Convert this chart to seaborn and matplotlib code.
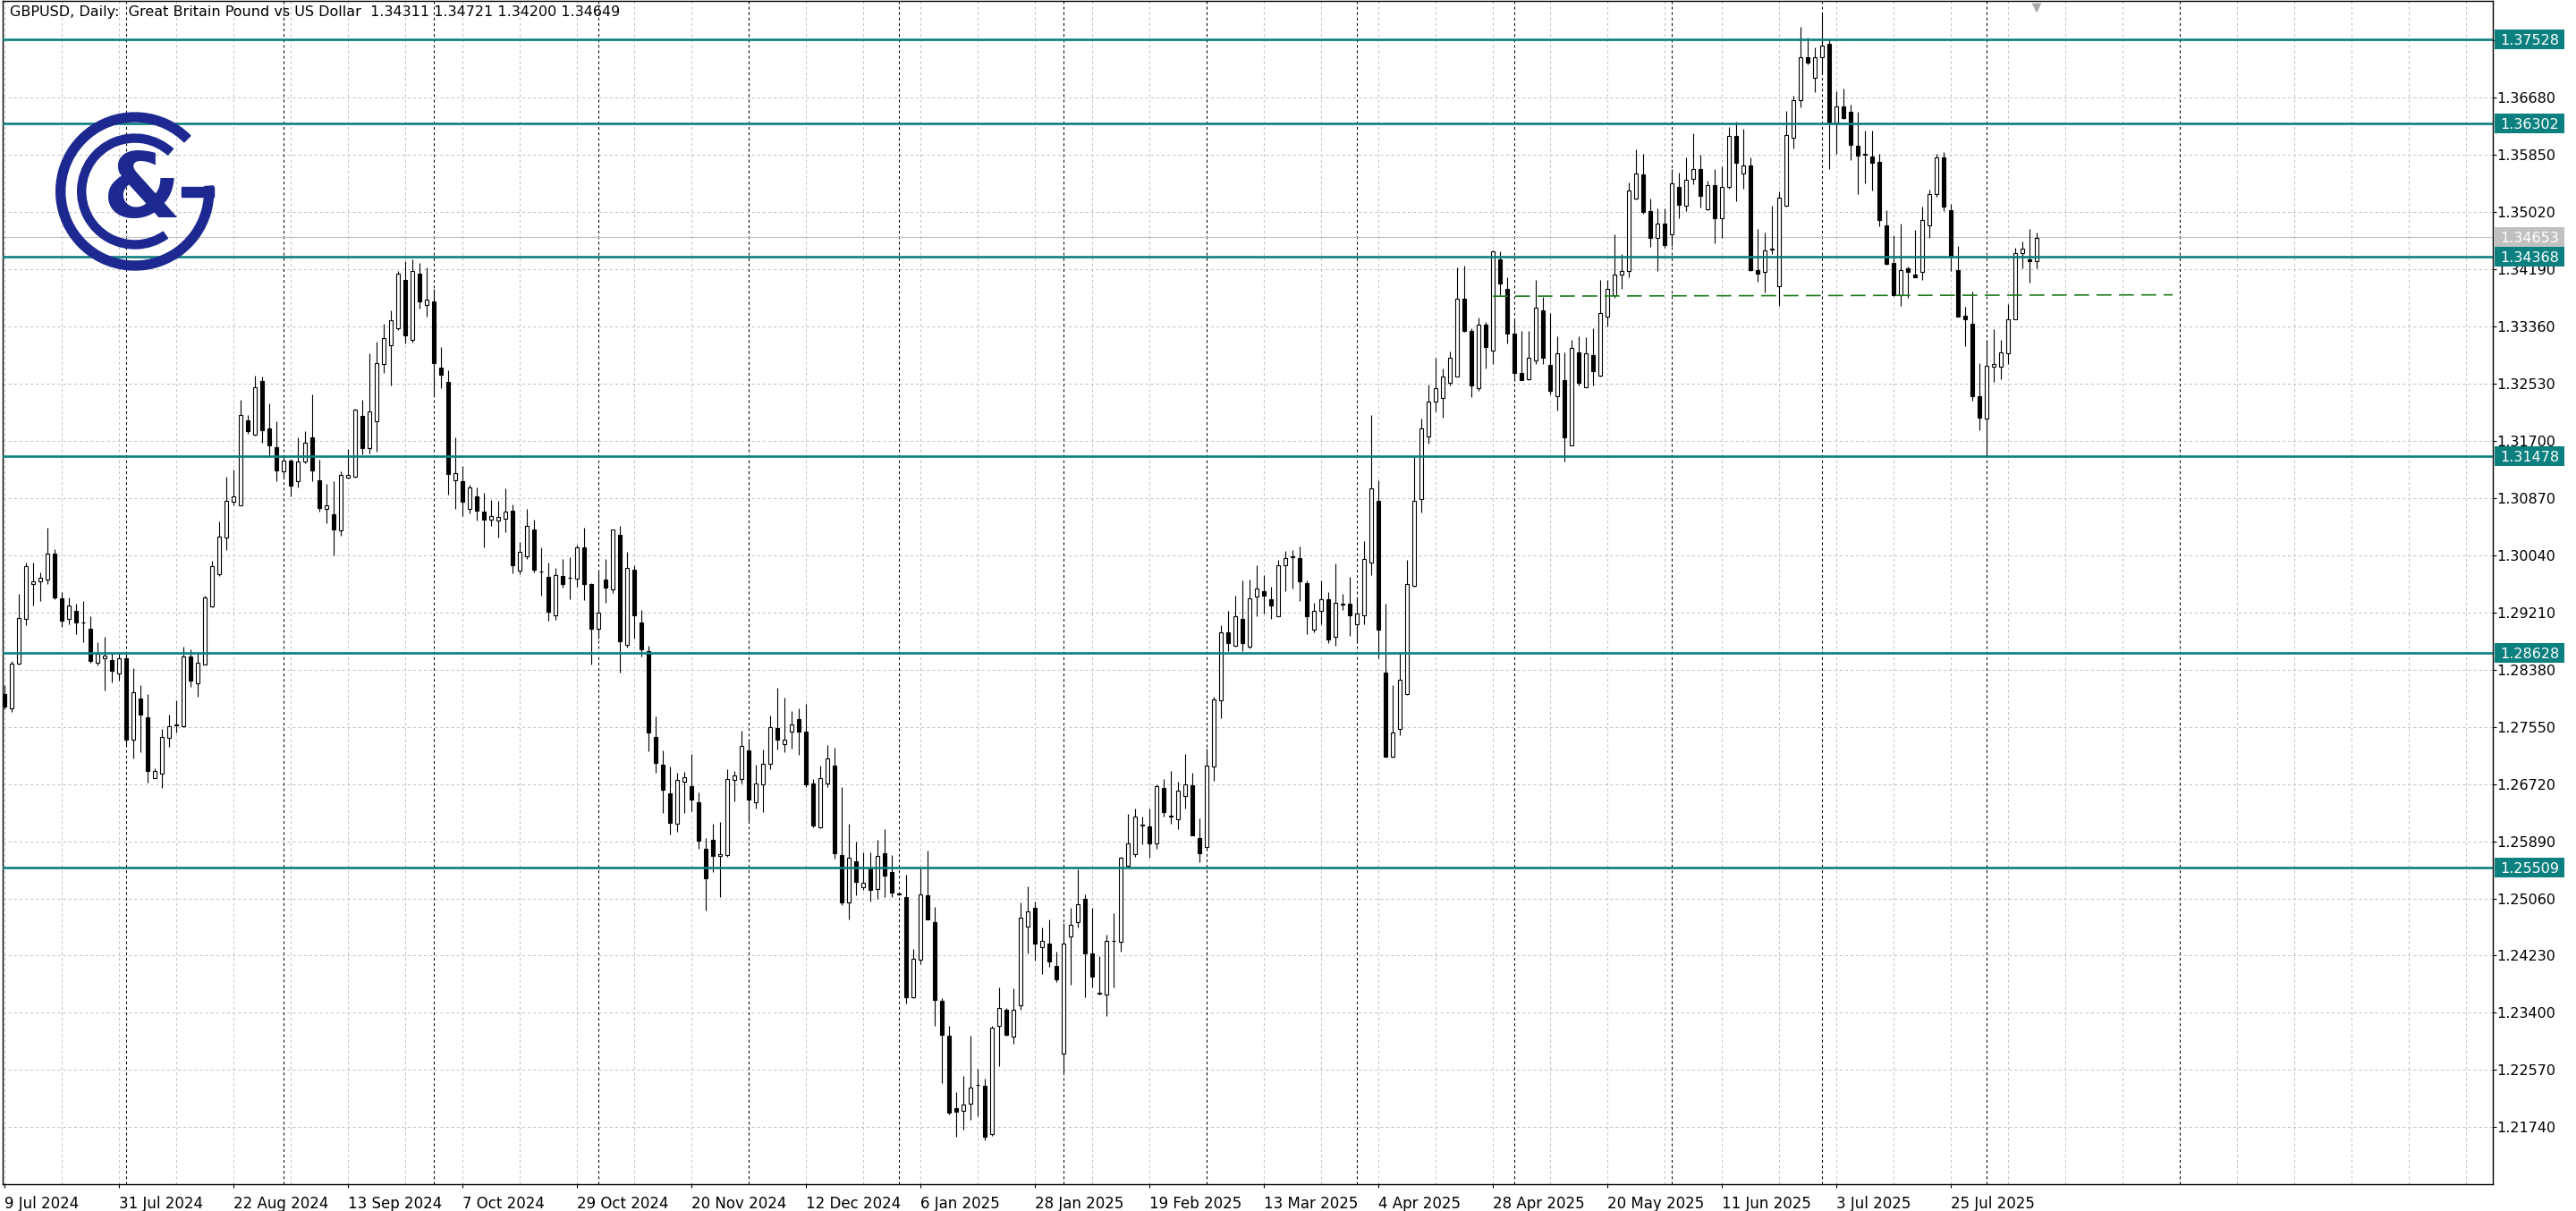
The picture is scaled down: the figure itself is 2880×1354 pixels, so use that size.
import numpy as np
import pandas as pd
import matplotlib
matplotlib.use("Agg")
import matplotlib.pyplot as plt
import matplotlib.transforms as mtransforms
from matplotlib.patches import Wedge, Rectangle
import seaborn as sns

# **Daily candles, GBPUSD** (9 Jul 2024 onwards)
opens = [1.2802, 1.2782, 1.2847, 1.2912, 1.2962, 1.2966, 1.2969, 1.3006, 1.2942, 1.2911,
         1.2923, 1.2907, 1.2897, 1.2848, 1.2854, 1.2852, 1.2833, 1.2855, 1.2736, 1.2796,
         1.2769, 1.2681, 1.2687, 1.2739, 1.2757, 1.2756, 1.2857, 1.2818, 1.2846, 1.2930,
         1.2977, 1.3030, 1.3082, 1.3077, 1.3200, 1.3179, 1.3257, 1.3188, 1.3161, 1.3126,
         1.3141, 1.3112, 1.3140, 1.3175, 1.3113, 1.3071, 1.3064, 1.3040, 1.3117, 1.3118,
         1.3206, 1.3160, 1.3199, 1.3282, 1.3309, 1.3334, 1.3404, 1.3317, 1.3413, 1.3367,
         1.3373, 1.3276, 1.3256, 1.3113, 1.3112, 1.3071, 1.3089, 1.3068, 1.3056, 1.3054,
         1.3057, 1.3069, 1.2982, 1.3003, 1.3041, 1.2981, 1.2973, 1.2917, 1.2974, 1.2971,
         1.2970, 1.3015, 1.2962, 1.2898, 1.2969, 1.2955, 1.3034, 1.2874, 1.2983, 1.2907,
         1.2865, 1.2740, 1.2700, 1.2658, 1.2615, 1.2676, 1.2669, 1.2645, 1.2578, 1.2591,
         1.2568, 1.2569, 1.2678, 1.2679, 1.2721, 1.2645, 1.2672, 1.2702, 1.2753, 1.2730,
         1.2748, 1.2766, 1.2748, 1.2673, 1.2609, 1.2673, 1.2699, 1.2569, 1.2500, 1.2560,
         1.2522, 1.2550, 1.2520, 1.2572, 1.2544, 1.2513, 1.2508, 1.2362, 1.2417, 1.2511,
         1.2472, 1.2357, 1.2307, 1.2201, 1.2198, 1.2208, 1.2236, 1.2234, 1.2164, 1.2321,
         1.2345, 1.2305, 1.2351, 1.2465, 1.2492, 1.2435, 1.2441, 1.2408, 1.2281, 1.2451,
         1.2472, 1.2505, 1.2426, 1.2369, 1.2366, 1.2444, 1.2443, 1.2553, 1.2570, 1.2612,
         1.2611, 1.2586, 1.2666, 1.2626, 1.2621, 1.2654, 1.2670, 1.2594, 1.2580, 1.2697,
         1.2793, 1.2892, 1.2873, 1.2912, 1.2871, 1.2944, 1.2952, 1.2940, 1.2916, 1.2989,
         1.3001, 1.3000, 1.2964, 1.2896, 1.2923, 1.2940, 1.2886, 1.2934, 1.2934, 1.2904,
         1.2917, 1.2993, 1.3083, 1.2834, 1.2712, 1.2752, 1.2803, 1.2960, 1.3086, 1.3177,
         1.3227, 1.3232, 1.3254, 1.3264, 1.3376, 1.3329, 1.3246, 1.3339, 1.3301, 1.3434,
         1.3391, 1.3326, 1.3268, 1.3260, 1.3287, 1.3360, 1.3280, 1.3235, 1.3258, 1.3164,
         1.3299, 1.3248, 1.3295, 1.3265, 1.3350, 1.3382, 1.3411, 1.3417, 1.3522, 1.3557,
         1.3504, 1.3464, 1.3485, 1.3470, 1.3538, 1.3511, 1.3550, 1.3564, 1.3506, 1.3541,
         1.3493, 1.3538, 1.3613, 1.3558, 1.3570, 1.3418, 1.3415, 1.3448, 1.3395, 1.3511,
         1.3610, 1.3664, 1.3727, 1.3697, 1.3727, 1.3746, 1.3632, 1.3656, 1.3648, 1.3598,
         1.3585, 1.3583, 1.3575, 1.3483, 1.3428, 1.3382, 1.3420, 1.3411, 1.3415, 1.3483,
         1.3528, 1.3581, 1.3505, 1.3418, 1.3352, 1.3340, 1.3235, 1.3202, 1.3278, 1.3278,
         1.3297, 1.3346, 1.3442, 1.3434, 1.34311]
highs = [1.2815, 1.2850, 1.2948, 1.2993, 1.2993, 1.2979, 1.3044, 1.3013, 1.2950, 1.2943,
         1.2934, 1.2937, 1.2915, 1.2878, 1.2886, 1.2864, 1.2861, 1.2861, 1.2840, 1.2816,
         1.2802, 1.2695, 1.2752, 1.2773, 1.2794, 1.2872, 1.2868, 1.2864, 1.2946, 1.2996,
         1.3053, 1.3118, 1.3129, 1.3230, 1.3207, 1.3265, 1.3263, 1.3225, 1.3198, 1.3148,
         1.3144, 1.3175, 1.3184, 1.3238, 1.3143, 1.3107, 1.3112, 1.3126, 1.3158, 1.3217,
         1.3230, 1.3297, 1.3314, 1.3340, 1.3359, 1.3416, 1.3431, 1.3434, 1.3428, 1.3422,
         1.3391, 1.3306, 1.3272, 1.3175, 1.3134, 1.3106, 1.3103, 1.3095, 1.3084, 1.3083,
         1.3101, 1.3078, 1.3023, 1.3071, 1.3056, 1.3016, 1.2994, 1.2985, 1.2998, 1.3001,
         1.3019, 1.3044, 1.2964, 1.2981, 1.2998, 1.3042, 1.3047, 1.3009, 1.2989, 1.2925,
         1.2873, 1.2770, 1.2721, 1.2697, 1.2689, 1.2690, 1.2715, 1.2660, 1.2594, 1.2614,
         1.2617, 1.2694, 1.2691, 1.2750, 1.2737, 1.2700, 1.2722, 1.2772, 1.2812, 1.2798,
         1.2778, 1.2782, 1.2788, 1.2679, 1.2699, 1.2728, 1.2725, 1.2667, 1.2614, 1.2588,
         1.2573, 1.2573, 1.2591, 1.2607, 1.2569, 1.2514, 1.2541, 1.2433, 1.2550, 1.2575,
         1.2494, 1.2361, 1.2321, 1.2225, 1.2249, 1.2307, 1.2259, 1.2244, 1.2321, 1.2377,
         1.2347, 1.2375, 1.2500, 1.2523, 1.2501, 1.2464, 1.2476, 1.2429, 1.2470, 1.2493,
         1.2548, 1.2512, 1.2493, 1.2422, 1.2454, 1.2484, 1.2567, 1.2629, 1.2636, 1.2625,
         1.2636, 1.2672, 1.2679, 1.2691, 1.2675, 1.2716, 1.2689, 1.2622, 1.2724, 1.2799,
         1.2902, 1.2923, 1.2945, 1.2967, 1.2969, 1.2989, 1.2975, 1.2959, 1.2997, 1.3010,
         1.3012, 1.3017, 1.2968, 1.2935, 1.2967, 1.2950, 1.2992, 1.2948, 1.2973, 1.2942,
         1.3025, 1.3207, 1.3113, 1.2934, 1.2815, 1.2863, 1.2997, 1.3147, 1.3202, 1.3252,
         1.3291, 1.3275, 1.3300, 1.3422, 1.3424, 1.3333, 1.3349, 1.3343, 1.3447, 1.3445,
         1.3407, 1.3345, 1.3329, 1.3330, 1.3403, 1.3379, 1.3356, 1.3322, 1.3299, 1.3317,
         1.3322, 1.3320, 1.3334, 1.3404, 1.3403, 1.3470, 1.3441, 1.3545, 1.3593, 1.3587,
         1.3522, 1.3507, 1.3507, 1.3564, 1.3560, 1.3581, 1.3617, 1.3585, 1.3548, 1.3564,
         1.3568, 1.3625, 1.3633, 1.3623, 1.3581, 1.3478, 1.3472, 1.3511, 1.3532, 1.3649,
         1.3671, 1.3771, 1.3755, 1.3741, 1.3790, 1.3751, 1.3678, 1.3682, 1.3658, 1.3648,
         1.3620, 1.3620, 1.3586, 1.3505, 1.3469, 1.3486, 1.3423, 1.3476, 1.3510, 1.3535,
         1.3586, 1.3589, 1.3514, 1.3453, 1.3365, 1.3387, 1.3283, 1.3317, 1.3332, 1.3317,
         1.3368, 1.3450, 1.3459, 1.3478, 1.34721]
lows = [1.2780, 1.2777, 1.2845, 1.2903, 1.2931, 1.2938, 1.2962, 1.2940, 1.2900, 1.2904,
        1.2889, 1.2878, 1.2848, 1.2844, 1.2808, 1.2820, 1.2822, 1.2729, 1.2709, 1.2718,
        1.2674, 1.2680, 1.2666, 1.2726, 1.2747, 1.2755, 1.2813, 1.2799, 1.2845, 1.2929,
        1.2974, 1.3011, 1.3077, 1.3076, 1.3180, 1.3178, 1.3168, 1.3147, 1.3112, 1.3117,
        1.3089, 1.3103, 1.3137, 1.3112, 1.3068, 1.3050, 1.3004, 1.3033, 1.3116, 1.3117,
        1.3150, 1.3152, 1.3154, 1.3269, 1.3250, 1.3331, 1.3312, 1.3313, 1.3362, 1.3351,
        1.3236, 1.3247, 1.3092, 1.3071, 1.3061, 1.3065, 1.3055, 1.3015, 1.3047, 1.3030,
        1.3037, 1.2978, 1.2976, 1.2998, 1.2979, 1.2945, 1.2909, 1.2910, 1.2957, 1.2940,
        1.2959, 1.2939, 1.2845, 1.2883, 1.2935, 1.2949, 1.2834, 1.2870, 1.2883, 1.2857,
        1.2719, 1.2688, 1.2630, 1.2599, 1.2603, 1.2630, 1.2632, 1.2578, 1.2488, 1.2544,
        1.2508, 1.2567, 1.2647, 1.2673, 1.2618, 1.2637, 1.2631, 1.2694, 1.2722, 1.2718,
        1.2724, 1.2714, 1.2667, 1.2609, 1.2608, 1.2667, 1.2564, 1.2496, 1.2476, 1.2511,
        1.2518, 1.2502, 1.2506, 1.2508, 1.2508, 1.2511, 1.2353, 1.2361, 1.2411, 1.2476,
        1.2321, 1.2238, 1.2192, 1.2160, 1.2170, 1.2185, 1.2190, 1.2155, 1.2162, 1.2262,
        1.2307, 1.2295, 1.2344, 1.2426, 1.2416, 1.2396, 1.2407, 1.2385, 1.2253, 1.2381,
        1.2464, 1.2363, 1.2377, 1.2366, 1.2335, 1.2377, 1.2429, 1.2551, 1.2567, 1.2584,
        1.2565, 1.2578, 1.2625, 1.2614, 1.2606, 1.2636, 1.2598, 1.2559, 1.2578, 1.2677,
        1.2768, 1.2865, 1.2871, 1.2865, 1.2869, 1.2915, 1.2920, 1.2912, 1.2915, 1.2952,
        1.2956, 1.2937, 1.2890, 1.2892, 1.2904, 1.2876, 1.2873, 1.2925, 1.2887, 1.2876,
        1.2904, 1.2975, 1.2854, 1.2711, 1.2711, 1.2743, 1.2801, 1.2959, 1.3066, 1.3166,
        1.3213, 1.3204, 1.3250, 1.3263, 1.3328, 1.3233, 1.3243, 1.3275, 1.3281, 1.3382,
        1.3312, 1.3257, 1.3258, 1.3258, 1.3281, 1.3281, 1.3237, 1.3214, 1.3140, 1.3164,
        1.3251, 1.3248, 1.3251, 1.3264, 1.3336, 1.3377, 1.3391, 1.3407, 1.3520, 1.3500,
        1.3451, 1.3417, 1.3450, 1.3453, 1.3493, 1.3503, 1.3542, 1.3509, 1.3505, 1.3457,
        1.3465, 1.3536, 1.3518, 1.3536, 1.3417, 1.3401, 1.3385, 1.3441, 1.3366, 1.3510,
        1.3594, 1.3654, 1.3717, 1.3676, 1.3702, 1.3564, 1.3587, 1.3637, 1.3577, 1.3528,
        1.3544, 1.3534, 1.3482, 1.3426, 1.3380, 1.3366, 1.3377, 1.3407, 1.3404, 1.3464,
        1.3524, 1.3504, 1.3417, 1.3351, 1.3308, 1.3229, 1.3186, 1.3148, 1.3255, 1.3260,
        1.3282, 1.3346, 1.3420, 1.3400, 1.34200]
closes = [1.2785, 1.2847, 1.2913, 1.2988, 1.2966, 1.2972, 1.3007, 1.2943, 1.2909, 1.2931,
          1.2906, 1.2906, 1.2850, 1.2861, 1.2859, 1.2836, 1.2855, 1.2737, 1.2805, 1.2773,
          1.2691, 1.2691, 1.2740, 1.2756, 1.2759, 1.2857, 1.2822, 1.2848, 1.2943, 1.2988,
          1.3031, 1.3083, 1.3089, 1.3207, 1.3184, 1.3248, 1.3185, 1.3163, 1.3127, 1.3141,
          1.3105, 1.3140, 1.3167, 1.3127, 1.3073, 1.3077, 1.3041, 1.3120, 1.3120, 1.3216,
          1.3160, 1.3213, 1.3283, 1.3319, 1.3345, 1.3413, 1.3323, 1.3416, 1.3372, 1.3375,
          1.3283, 1.3266, 1.3122, 1.3123, 1.3082, 1.3103, 1.3069, 1.3056, 1.3061, 1.3059,
          1.3068, 1.2989, 1.3009, 1.3047, 1.2983, 1.2980, 1.2922, 1.2975, 1.2962, 1.2972,
          1.3015, 1.2962, 1.2898, 1.2921, 1.2957, 1.3041, 1.2879, 1.2985, 1.2917, 1.2868,
          1.2747, 1.2703, 1.2664, 1.2616, 1.2678, 1.2682, 1.2649, 1.2590, 1.2535, 1.2568,
          1.2570, 1.2679, 1.2684, 1.2727, 1.2649, 1.2673, 1.2702, 1.2755, 1.2736, 1.2737,
          1.2759, 1.2748, 1.2672, 1.2612, 1.2681, 1.2709, 1.2572, 1.2500, 1.2565, 1.2530,
          1.2529, 1.2518, 1.2568, 1.2539, 1.2514, 1.2512, 1.2363, 1.2418, 1.2512, 1.2476,
          1.2359, 1.2308, 1.2195, 1.2196, 1.2207, 1.2231, 1.2235, 1.2160, 1.2319, 1.2347,
          1.2308, 1.2345, 1.2478, 1.2487, 1.2440, 1.2445, 1.2414, 1.2389, 1.2441, 1.2468,
          1.2497, 1.2426, 1.2393, 1.2368, 1.2445, 1.2445, 1.2565, 1.2586, 1.2625, 1.2613,
          1.2586, 1.2669, 1.2631, 1.2625, 1.2662, 1.2672, 1.2598, 1.2571, 1.2699, 1.2795,
          1.2892, 1.2876, 1.2916, 1.2876, 1.2942, 1.2956, 1.2945, 1.2931, 1.2989, 1.3000,
          1.3002, 1.2966, 1.2915, 1.2923, 1.2940, 1.2882, 1.2935, 1.2933, 1.2917, 1.2920,
          1.2998, 1.3101, 1.2896, 1.2712, 1.2747, 1.2824, 1.2962, 1.3083, 1.3188, 1.3227,
          1.3246, 1.3264, 1.3291, 1.3376, 1.3329, 1.3250, 1.3339, 1.3306, 1.3445, 1.3399,
          1.3326, 1.3268, 1.3258, 1.3291, 1.3363, 1.3291, 1.3243, 1.3297, 1.3175, 1.3305,
          1.3254, 1.3297, 1.3271, 1.3356, 1.3391, 1.3411, 1.3417, 1.3534, 1.3558, 1.3502,
          1.3465, 1.3485, 1.3454, 1.3544, 1.3512, 1.3549, 1.3564, 1.3526, 1.3541, 1.3493,
          1.3538, 1.3613, 1.3574, 1.3570, 1.3418, 1.3413, 1.3447, 1.3449, 1.3523, 1.3614,
          1.3664, 1.3727, 1.3719, 1.3727, 1.3744, 1.3632, 1.3655, 1.3639, 1.3599, 1.3584,
          1.3586, 1.3574, 1.3490, 1.3427, 1.3381, 1.3418, 1.3415, 1.3408, 1.3491, 1.3528,
          1.3581, 1.3510, 1.3438, 1.3351, 1.3346, 1.3235, 1.3204, 1.3279, 1.3282, 1.3298,
          1.3347, 1.3442, 1.3449, 1.3431, 1.34649]

first_day = "2024-07-09"
skip_days = ["2024-12-25"]

# horizontal levels drawn on the chart
level_prices = [1.37528, 1.36302, 1.34368, 1.31478, 1.28628, 1.25509]
bid_price = 1.34653
# dashed green trend line: (bar, price) at each end
trend_bars = [208, 303]
trend_prices = [1.3380, 1.3382]

price_ticks = [1.21740, 1.22570, 1.23400, 1.24230, 1.25060, 1.25890, 1.26720,
               1.27550, 1.28380, 1.29210, 1.30040, 1.30870, 1.31700, 1.32530,
               1.33360, 1.34190, 1.35020, 1.35850, 1.36680, 1.37510]

title = ("GBPUSD, Daily:  Great Britain Pound vs US Dollar  "
         "1.34311 1.34721 1.34200 1.34649")

# **Dates**
n = len(opens)
days = pd.bdate_range(first_day, periods=n + 10)
days = days[~days.isin(pd.to_datetime(skip_days))][:n]

# **Style**
sns.set_theme(style="white")
plt.rcParams["font.family"] = ["DejaVu Sans"]
plt.rcParams["lines.scale_dashes"] = False
teal = "#0c7f7f"
navy = "#1d2891"
grid_col = "#c3c3c3"
dots = (0, (2.2, 2.2))

W, H = 2880, 1354
fig = plt.figure(figsize=(W / 100, H / 100), dpi=100)
fig.patch.set_facecolor("white")
ax = fig.add_axes([3 / W, 30 / H, 2784 / W, 1323 / H])
ax.set_facecolor("white")

x = np.arange(n)
o = np.array(opens)
h = np.array(highs)
l = np.array(lows)
c = np.array(closes)

ax.set_xlim(-0.25, 347.75)
ax.set_ylim(1.209129, 1.380858)

# grid
for gx in range(0, 348, 8):
    ax.axvline(gx, color=grid_col, lw=0.75, ls=dots, zorder=0)
for p in price_ticks:
    ax.axhline(p, color=grid_col, lw=0.75, ls=dots, zorder=0)

# month separators (next one in the empty future area too)
month_starts = [i for i in range(1, n) if days[i].month != days[i - 1].month]
next_month = days[-1] + pd.offsets.MonthBegin(1)
month_starts.append(n - 1 + (next_month - days[-1]).days)
for mx in month_starts:
    ax.axvline(mx, color="black", lw=0.75, ls=dots, zorder=1)

# candles
up = c >= o
ax.vlines(x, l, h, color="black", lw=0.8, zorder=3)
body_low = np.minimum(o, c)
body_h = np.maximum(np.abs(c - o), 0.00002)
ax.bar(x, body_h, bottom=body_low, width=0.5,
       color=np.where(up, "white", "black"), edgecolor="black",
       linewidth=0.8, zorder=4)

# levels, bid line, trend line
for p in level_prices:
    ax.axhline(p, color=teal, lw=1.9, zorder=5)
ax.axhline(bid_price, color="#c0c0c0", lw=0.8, zorder=2)
ax.plot(trend_bars, trend_prices, color="#1b7a1b", lw=1.2,
        ls=(0, (12, 6)), zorder=5)

# chart-shift marker at the top
sns.scatterplot(x=[x[-1]], y=[1.380858 - 8 / 7704], marker="v", s=60,
                color="#a8a8a8", edgecolor="none", ax=ax, zorder=8,
                clip_on=False, legend=False)

# axes
for s in ax.spines.values():
    s.set_color("black")
    s.set_linewidth(1.0)
ax.yaxis.tick_right()
ax.set_yticks(price_ticks)
ax.set_yticklabels([f"{p:.5f}" for p in price_ticks])
ax.tick_params(axis="y", which="both", right=True, left=False, length=2.6,
               width=0.8, pad=0.8, labelsize=11.5, colors="black")
ax.set_xticks(x[::16])
ax.set_xticklabels([f"{d.day} {d:%b %Y}" for d in days[::16]], ha="left")
ax.tick_params(axis="x", bottom=True, length=2.6, width=0.8, pad=7,
               labelsize=12, colors="black")
ax.set_xlabel("")
ax.set_ylabel("")

# price labels on the scale
box_tr = mtransforms.blended_transform_factory(ax.transAxes, ax.transData)
bx = 1 + 2 / 2784
bw = 78 / 2784
bh = 22 / 7704
for p, fc in [(bid_price, "#c0c0c0")] + [(p, teal) for p in level_prices]:
    ax.add_patch(Rectangle((bx, p - bh / 2), bw, bh, transform=box_tr,
                           facecolor=fc, edgecolor="none", clip_on=False,
                           zorder=9))
    ax.text(bx + bw / 2, p, f"{p:.5f}", transform=box_tr, ha="center",
            va="center_baseline", color="white", fontsize=11.5,
            clip_on=False, zorder=10)

fig.text(11 / W, 1 - 6 / H, title, ha="left", va="top", fontsize=11.5,
         color="black")

# logo, drawn in pixel units
lg = fig.add_axes([0, 0, 1, 1], zorder=5)
lg.set_xlim(0, W)
lg.set_ylim(0, H)
lg.axis("off")
cx, cy = 150.7, H - 214
lg.add_patch(Wedge((cx, cy), 88, 45, 4, width=10, color=navy))
lg.add_patch(Rectangle((cx + 52, cy - 5.5), 36, 11, color=navy))
lg.add_patch(Wedge((cx, cy), 64, 48, 305, width=9, color=navy))
lg.text(cx + 8, cy - 1, "&", fontsize=72, fontweight="bold", color=navy,
        ha="center", va="center")

fig.savefig("out.png", dpi=100)
